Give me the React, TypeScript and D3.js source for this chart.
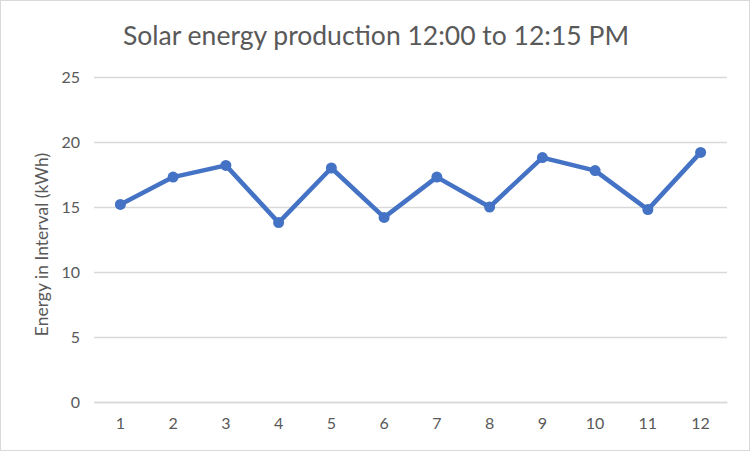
import React, { useEffect, useRef } from 'react';
import * as d3 from 'd3';

const intervals = ['1', '2', '3', '4', '5', '6', '7', '8', '9', '10', '11', '12'];
const energy = [15.2, 17.3, 18.2, 13.8, 18.0, 14.2, 17.3, 15.0, 18.8, 17.8, 14.8, 19.2];
const yTicks = [0, 5, 10, 15, 20, 25];

const App: React.FC = () => {
  const ref = useRef<SVGSVGElement | null>(null);

  useEffect(() => {
    const W = 751;
    const H = 452;
    const margin = { top: 77, right: 24, bottom: 50, left: 94 };
    const width = W - margin.left - margin.right;
    const height = H - margin.top - margin.bottom;
    const font = 'Lato, "Open Sans", sans-serif';

    const svg = d3.select(ref.current);
    svg.selectAll('*').remove();
    svg.attr('width', W).attr('height', H);

    svg.append('rect')
      .attr('x', 0.5).attr('y', 0.5)
      .attr('width', W - 2).attr('height', H - 2)
      .attr('fill', 'white')
      .attr('stroke', '#d9d9d9')
      .attr('stroke-width', 1);

    svg.append('text')
      .attr('x', 376)
      .attr('y', 45)
      .attr('text-anchor', 'middle')
      .style('font-family', font)
      .style('font-size', '26.5px')
      .style('fill', '#595959')
      .text('Solar energy production 12:00 to 12:15 PM');

    const g = svg.append('g').attr('transform', `translate(${margin.left},${margin.top})`);

    const x = d3.scaleBand().domain(intervals).range([0, width]);
    const y = d3.scaleLinear().domain([0, 25]).range([height, 0]);

    const yAxis = g.append('g')
      .call(d3.axisLeft(y).tickValues(yTicks).tickSize(-width).tickPadding(14));
    yAxis.select('.domain').remove();
    yAxis.selectAll('line').attr('stroke', '#d9d9d9').attr('stroke-width', 1.3);
    yAxis.selectAll('text')
      .style('font-family', font)
      .style('font-size', '16px')
      .style('fill', '#595959');

    const xAxis = g.append('g')
      .attr('transform', `translate(0,${height})`)
      .call(d3.axisBottom(x).tickSize(0).tickPadding(16));
    xAxis.select('.domain').attr('stroke', '#d9d9d9').attr('stroke-width', 1.3);
    xAxis.selectAll('text')
      .style('font-family', font)
      .style('font-size', '16px')
      .style('fill', '#595959');

    g.append('text')
      .attr('transform', 'rotate(-90)')
      .attr('x', -height / 2 - 5)
      .attr('y', -46)
      .attr('text-anchor', 'middle')
      .style('font-family', font)
      .style('font-size', '17.5px')
      .style('fill', '#595959')
      .text('Energy in Interval (kWh)');

    const cx = (d: string) => (x(d) ?? 0) + x.bandwidth() / 2;
    const line = d3.line<number>()
      .x((_, i) => cx(intervals[i]))
      .y(d => y(d));

    g.append('path')
      .datum(energy)
      .attr('d', line)
      .attr('fill', 'none')
      .attr('stroke', '#4472c4')
      .attr('stroke-width', 4.5)
      .attr('stroke-linejoin', 'round');

    g.selectAll('.dot')
      .data(energy)
      .enter().append('circle')
      .attr('class', 'dot')
      .attr('cx', (_, i) => cx(intervals[i]))
      .attr('cy', d => y(d))
      .attr('r', 5.5)
      .attr('fill', '#4472c4');
  }, []);

  return (
    <div style={{ position: 'absolute', left: 0, top: 0 }}>
      <svg ref={ref}></svg>
    </div>
  );
};

export default App;
